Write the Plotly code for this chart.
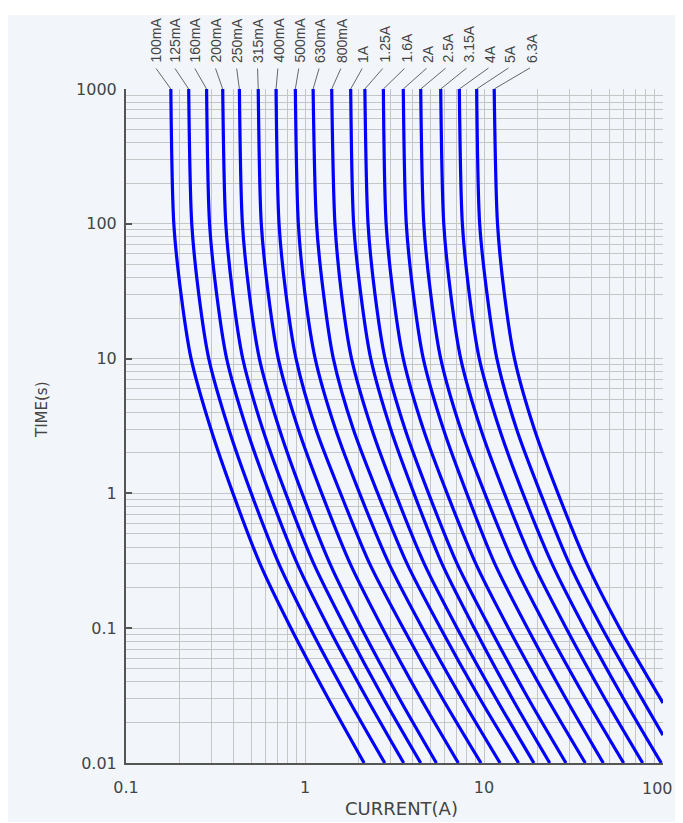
import math
import plotly.graph_objects as go

# ---------------- data ----------------
RATINGS = ["100mA", "125mA", "160mA", "200mA", "250mA", "315mA", "400mA",
           "500mA", "630mA", "800mA", "1A", "1.25A", "1.6A", "2A", "2.5A",
           "3.15A", "4A", "5A", "6.3A"]

TIMES = [1000, 100, 30, 10, 3, 1, 0.3, 0.1, 0.03, 0.01]          # s
TIMES_5A = [1000, 100, 30, 10, 3, 1, 0.3, 0.1, 0.0161]
TIMES_6A3 = [1000, 100, 30, 10, 3, 1, 0.3, 0.1, 0.0279]

cur_100mA = [0.178, 0.185, 0.203, 0.231, 0.298, 0.396, 0.561, 0.835, 1.35, 2.14]
cur_125mA = [0.224, 0.233, 0.255, 0.290, 0.375, 0.501, 0.715, 1.07, 1.74, 2.79]
cur_160mA = [0.282, 0.293, 0.321, 0.365, 0.472, 0.633, 0.906, 1.36, 2.22, 3.56]
cur_200mA = [0.347, 0.361, 0.395, 0.449, 0.580, 0.780, 1.12, 1.69, 2.75, 4.43]
cur_250mA = [0.430, 0.447, 0.489, 0.556, 0.719, 0.963, 1.38, 2.07, 3.37, 5.42]
cur_315mA = [0.548, 0.570, 0.624, 0.709, 0.917, 1.24, 1.79, 2.71, 4.44, 7.19]
cur_400mA = [0.689, 0.716, 0.783, 0.891, 1.15, 1.58, 2.30, 3.54, 5.87, 9.62]
cur_500mA = [0.883, 0.918, 1.00, 1.14, 1.48, 2.02, 2.95, 4.53, 7.52, 12.3]
cur_630mA = [1.11, 1.16, 1.27, 1.44, 1.86, 2.55, 3.72, 5.72, 9.49, 15.6]
cur_800mA = [1.41, 1.47, 1.60, 1.82, 2.36, 3.20, 4.64, 7.08, 11.7, 19.0]
cur_1A = [1.80, 1.87, 2.05, 2.33, 3.01, 4.06, 5.83, 8.83, 14.4, 23.3]
cur_1A25 = [2.16, 2.25, 2.46, 2.80, 3.62, 4.90, 7.08, 10.8, 17.7, 28.7]
cur_1A6 = [2.74, 2.84, 3.11, 3.54, 4.58, 6.22, 9.01, 13.7, 22.6, 36.8]
cur_2A = [3.54, 3.68, 4.03, 4.58, 5.93, 8.01, 11.5, 17.5, 28.7, 46.4]
cur_2A5 = [4.43, 4.61, 5.04, 5.73, 7.41, 10.1, 14.7, 22.4, 37.0, 60.3]
cur_3A15 = [5.73, 5.96, 6.52, 7.41, 9.59, 13.0, 18.9, 28.8, 47.4, 77.0]
cur_4A = [7.28, 7.57, 8.28, 9.41, 12.2, 16.5, 24.0, 36.5, 60.2, 97.8]
cur_5A = [9.10, 9.46, 10.4, 11.8, 15.2, 20.7, 30.0, 45.7, 100]
cur_6A3 = [11.4, 11.9, 13.0, 14.8, 19.1, 25.9, 37.6, 57.3, 100]

CURRENTS = [cur_100mA, cur_125mA, cur_160mA, cur_200mA, cur_250mA, cur_315mA,
            cur_400mA, cur_500mA, cur_630mA, cur_800mA, cur_1A, cur_1A25,
            cur_1A6, cur_2A, cur_2A5, cur_3A15, cur_4A, cur_5A, cur_6A3]
TIME_SETS = [TIMES] * 17 + [TIMES_5A, TIMES_6A3]

X_TICKS = [0.1, 1, 10, 100]
X_TICK_TEXT = ["0.1", "1", "10", "100"]
Y_TICKS = [0.01, 0.1, 1, 10, 100, 1000]
Y_TICK_TEXT = ["0.01", "0.1", "1", "10", "100", "1000"]

# ---------------- layout / style ----------------
PAGE_OFF = 8                      # browser body margin
W, H = 683 - 2 * PAGE_OFF, 823 - PAGE_OFF
ML, MT = 126 - PAGE_OFF, 89 - PAGE_OFF
PW, PH = 537, 674
MR, MB = W - ML - PW, H - MT - PH
XR = [-1, 2]
YR = [-2, 3]
BG = "#f2f6fa"
GRID = "#c6c6c6"
AXIS = "#555555"
TXT = "#444444"
BLUE = "#0000ff"
FONT = "DejaVu Sans"

# label column centres (screen pixels) for the rotated rating labels
LABEL_PX = [155, 174, 194, 215, 236.5, 257.5, 278, 299, 319.5, 341.5, 363,
            384, 406, 428, 447, 468, 490, 510, 531.5]

minor_x = [m * 10 ** e for e in (-1, 0, 1) for m in range(2, 10)]
minor_y = [m * 10 ** e for e in (-2, -1, 0, 1, 2) for m in range(2, 10)]

fig = go.Figure()
for cur, ts in zip(CURRENTS, TIME_SETS):
    fig.add_trace(go.Scatter(
        x=cur, y=ts, mode="lines",
        line=dict(color=BLUE, width=3.2, shape="spline", smoothing=0.8),
        hoverinfo="skip", showlegend=False))

annotations = []
for name, cur, px in zip(RATINGS, CURRENTS, LABEL_PX):
    frac = (px - 126) / PW
    annotations.append(dict(
        text=name, xref="paper", yref="paper", x=frac, y=1,
        yshift=24, xanchor="center", yanchor="bottom", textangle=-90,
        showarrow=False,
        font=dict(family="Liberation Sans", size=14, color=TXT)))
    annotations.append(dict(
        text="", xref="x", yref="y", x=math.log10(cur[0]), y=YR[1],
        axref="x", ax=XR[0] + frac * (XR[1] - XR[0]), ayref="pixel", ay=-22,
        showarrow=True, arrowhead=0, arrowwidth=1, arrowcolor="#666666",
        standoff=0, startstandoff=0))

# last x tick label drawn as annotation so it is not hidden at the page edge
annotations.append(dict(
    text=X_TICK_TEXT[-1], xref="x", yref="paper", x=math.log10(X_TICKS[-1]),
    y=0, xanchor="right", yanchor="middle", xshift=12, yshift=-25,
    showarrow=False, font=dict(family=FONT, size=16, color=TXT)))

annotations.append(dict(
    text="CURRENT(A)", xref="paper", yref="paper", x=(401 - 126) / PW, y=0,
    yshift=-45, xanchor="center", yanchor="middle", showarrow=False,
    font=dict(family=FONT, size=18, color=TXT)))
annotations.append(dict(
    text="TIME(s)", xref="paper", yref="paper", x=(42 - 126) / PW,
    y=(763 - 410) / PH, xanchor="center", yanchor="middle",
    textangle=-90, showarrow=False,
    font=dict(family=FONT, size=15, color=TXT)))

# light panel behind everything (screen px 7..676 x 15..822)
px0, px1, py0, py1 = 7, 676, 15, 822
fig.update_layout(
    width=W, height=H,
    margin=dict(l=ML, r=MR, t=MT, b=MB, pad=0),
    paper_bgcolor="white", plot_bgcolor=BG,
    shapes=[dict(type="rect", xref="paper", yref="paper", layer="below",
                 x0=(px0 - 126) / PW, x1=(px1 - 126) / PW,
                 y0=(763 - py1) / PH, y1=(763 - py0) / PH,
                 fillcolor=BG, line=dict(width=0))],
    annotations=annotations,
    xaxis=dict(
        type="log", range=XR, tickvals=X_TICKS[:-1], ticktext=X_TICK_TEXT[:-1],
        showgrid=True, gridcolor=GRID, gridwidth=1, zeroline=False,
        minor=dict(tickvals=minor_x + [X_TICKS[-1]], showgrid=True,
                   gridcolor=GRID, gridwidth=1, ticks=""),
        showline=True, linecolor=AXIS, linewidth=2, ticks="",
        ticklabelstandoff=9,
        tickfont=dict(family=FONT, size=16, color=TXT)),
    yaxis=dict(
        type="log", range=YR, tickvals=Y_TICKS, ticktext=Y_TICK_TEXT,
        showgrid=True, gridcolor=GRID, gridwidth=1, zeroline=False,
        minor=dict(tickvals=minor_y, showgrid=True, gridcolor=GRID,
                   gridwidth=1, ticks=""),
        showline=True, linecolor=AXIS, linewidth=2,
        ticks="inside", ticklen=6, tickwidth=2, tickcolor=AXIS,
        ticklabelstandoff=4,
        tickfont=dict(family=FONT, size=16, color=TXT)),
)

fig.write_html("out.html")
